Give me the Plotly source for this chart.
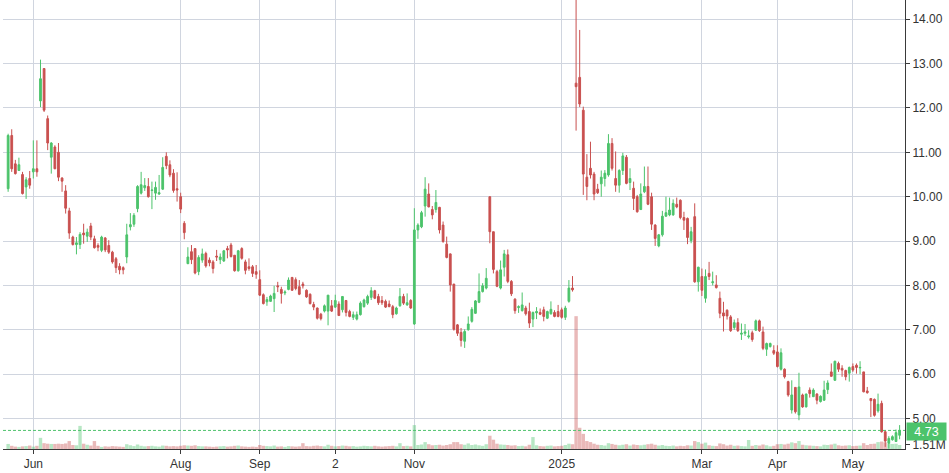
import pandas as pd
import plotly.graph_objects as go

# ---------------- data ----------------
holidays = ["2024-05-27", "2024-06-19", "2024-07-04", "2024-09-02", "2024-11-28",
            "2024-12-25", "2025-01-01", "2025-01-09", "2025-01-20", "2025-02-17", "2025-04-18"]
dates = [d.strftime("%Y-%m-%d") for d in pd.bdate_range("2024-05-22", "2025-05-20")
         if d.strftime("%Y-%m-%d") not in holidays]

opens = [
    10.18, 11.38, 10.74, 10.59, 10.50, 10.22, 10.41, 10.56, 10.63, 12.16,
    12.89, 11.76, 10.89, 11.12, 11.00, 10.42, 10.13, 9.68, 9.09, 8.92,
    8.92, 9.18, 9.11, 9.34, 9.05, 8.90, 8.79, 9.07, 8.90, 8.75,
    8.60, 8.43, 8.40, 8.64, 9.32, 9.38, 9.73, 10.08, 10.20, 10.23,
    10.14, 10.08, 10.06, 10.17, 10.91, 10.72, 10.53, 10.18, 10.00, 9.40,
    8.49, 8.76, 8.83, 8.31, 8.57, 8.72, 8.57, 8.53, 8.66, 8.58,
    8.55, 8.83, 8.91, 8.68, 8.33, 8.83, 8.53, 8.42, 8.42, 8.31,
    8.13, 7.79, 7.63, 7.64, 7.70, 7.99, 7.91, 7.83, 7.91, 8.18,
    8.13, 7.97, 8.03, 7.89, 7.80, 7.57, 7.49, 7.35, 7.42, 7.42,
    7.54, 7.51, 7.58, 7.45, 7.66, 7.41, 7.28, 7.24, 7.34, 7.52,
    7.60, 7.73, 7.88, 7.75, 7.66, 7.64, 7.58, 7.52, 7.36, 7.54,
    7.75, 7.56, 7.66, 7.13, 9.25, 9.32, 9.79, 10.06, 9.71, 9.71,
    9.76, 9.36, 8.93, 8.71, 8.03, 7.11, 6.94, 6.74, 7.00, 7.19,
    7.37, 7.62, 7.86, 7.94, 10.00, 9.21, 8.31, 7.94, 8.41, 8.69,
    8.09, 7.69, 7.50, 7.43, 7.49, 7.41, 7.24, 7.38, 7.39, 7.45,
    7.26, 7.36, 7.39, 7.41, 7.45, 7.28, 7.64, 7.94, 12.56, 12.69,
    11.95, 10.44, 10.64, 10.51, 10.17, 10.29, 10.41, 10.49, 11.20, 10.41,
    10.26, 10.59, 10.89, 10.32, 10.19, 10.00, 9.71, 10.11, 10.23, 10.00,
    9.36, 8.89, 9.14, 9.56, 9.59, 9.59, 9.83, 9.92, 9.53, 9.51,
    9.01, 9.55, 8.08, 8.20, 7.71, 8.27, 8.06, 8.01, 7.71, 7.38,
    7.44, 7.29, 7.05, 7.16, 6.90, 6.92, 6.84, 6.93, 6.99, 7.20,
    6.95, 6.56, 6.62, 6.53, 6.50, 6.11, 6.11, 5.83, 5.19, 5.70,
    5.08, 5.53, 5.26, 5.64, 5.49, 5.55, 5.38, 5.41, 5.65, 6.05,
    5.86, 6.24, 6.13, 6.08, 6.02, 6.17, 6.20, 6.14, 6.05, 5.62,
    5.45, 5.43, 5.17, 5.34, 4.70, 4.44, 4.52, 4.48, 4.62,
]
highs = [
    11.42, 11.52, 10.83, 10.88, 10.56, 10.44, 10.58, 11.27, 11.27, 13.09,
    12.89, 11.83, 11.23, 11.16, 11.21, 10.44, 10.26, 9.75, 9.12, 9.09,
    9.20, 9.39, 9.28, 9.41, 9.12, 8.95, 9.12, 9.09, 9.02, 8.78,
    8.64, 8.50, 8.43, 9.39, 9.63, 9.63, 10.26, 10.56, 10.42, 10.42,
    10.34, 10.34, 10.49, 10.89, 11.00, 10.82, 10.62, 10.55, 10.09, 9.45,
    8.86, 8.91, 8.83, 8.68, 8.83, 8.76, 8.63, 8.57, 8.80, 8.72,
    8.80, 8.89, 8.96, 8.68, 8.80, 8.86, 8.58, 8.61, 8.46, 8.46,
    8.34, 7.82, 7.74, 7.79, 7.99, 8.08, 7.97, 7.89, 8.18, 8.19,
    8.18, 8.12, 8.08, 7.91, 7.82, 7.63, 7.50, 7.38, 7.57, 7.78,
    7.67, 7.79, 7.64, 7.76, 7.67, 7.45, 7.41, 7.41, 7.64, 7.70,
    7.79, 7.96, 7.90, 7.81, 7.76, 7.68, 7.66, 7.56, 7.52, 7.94,
    7.81, 7.82, 7.69, 9.74, 9.40, 9.68, 10.44, 10.30, 9.79, 10.15,
    9.77, 9.44, 9.10, 8.72, 8.03, 7.13, 7.04, 7.01, 7.30, 7.51,
    7.67, 8.27, 8.05, 8.39, 10.00, 9.21, 8.35, 8.56, 8.80, 8.81,
    8.12, 7.71, 7.55, 7.84, 7.54, 7.61, 7.41, 7.51, 7.48, 7.52,
    7.43, 7.64, 7.44, 7.56, 7.50, 7.54, 8.12, 8.21, 14.60, 13.76,
    12.03, 10.96, 11.24, 10.56, 10.29, 10.59, 10.60, 11.41, 11.32, 11.02,
    10.62, 10.99, 10.94, 10.64, 10.34, 10.04, 10.30, 10.68, 10.68, 10.09,
    9.38, 9.16, 9.68, 10.00, 9.98, 9.94, 9.98, 9.94, 9.66, 9.53,
    9.32, 9.85, 8.42, 8.38, 8.36, 8.53, 8.31, 8.23, 7.86, 7.63,
    7.46, 7.33, 7.23, 7.26, 7.14, 7.13, 6.99, 6.98, 7.23, 7.23,
    7.07, 6.71, 6.71, 6.65, 6.65, 6.58, 6.13, 5.85, 5.86, 5.70,
    6.03, 5.56, 5.56, 5.70, 5.68, 5.57, 5.52, 5.85, 5.86, 6.24,
    6.30, 6.28, 6.20, 6.10, 6.17, 6.24, 6.24, 6.29, 6.05, 5.71,
    5.45, 5.45, 5.56, 5.40, 4.74, 4.60, 4.62, 4.75, 4.85,
]
lows = [
    10.11, 10.56, 10.50, 10.59, 10.05, 9.95, 10.18, 10.41, 10.45, 12.02,
    11.91, 11.05, 10.52, 10.62, 10.35, 10.11, 9.62, 9.05, 8.90, 8.70,
    8.82, 8.94, 8.98, 9.02, 8.83, 8.77, 8.75, 8.75, 8.71, 8.49,
    8.28, 8.25, 8.25, 8.50, 9.24, 9.32, 9.65, 10.05, 10.13, 9.98,
    9.72, 9.93, 10.04, 10.15, 10.62, 10.44, 10.09, 9.89, 9.63, 9.04,
    8.48, 8.48, 8.25, 8.23, 8.51, 8.40, 8.43, 8.27, 8.55, 8.48,
    8.53, 8.61, 8.63, 8.31, 8.31, 8.58, 8.25, 8.33, 8.19, 8.15,
    7.76, 7.57, 7.54, 7.63, 7.40, 7.85, 7.59, 7.78, 7.89, 7.88,
    7.89, 7.78, 7.93, 7.72, 7.57, 7.44, 7.23, 7.21, 7.39, 7.10,
    7.40, 7.49, 7.32, 7.39, 7.30, 7.28, 7.22, 7.21, 7.32, 7.50,
    7.56, 7.67, 7.69, 7.56, 7.56, 7.49, 7.51, 7.26, 7.34, 7.52,
    7.56, 7.54, 7.47, 7.11, 9.05, 9.29, 9.55, 9.76, 9.49, 9.64,
    9.17, 8.96, 8.61, 7.86, 6.98, 6.86, 6.62, 6.59, 6.98, 7.16,
    7.36, 7.60, 7.84, 7.91, 8.95, 8.27, 7.96, 7.91, 8.20, 8.05,
    7.76, 7.36, 7.38, 7.41, 7.32, 7.04, 7.06, 7.24, 7.33, 7.19,
    7.24, 7.34, 7.28, 7.28, 7.25, 7.22, 7.61, 7.86, 11.49, 12.02,
    10.04, 9.92, 10.41, 9.92, 10.06, 10.00, 10.23, 10.45, 10.59, 10.11,
    10.09, 10.49, 10.28, 10.15, 9.70, 9.64, 9.70, 10.08, 9.81, 9.25,
    8.89, 8.86, 9.10, 9.55, 9.56, 9.57, 9.74, 9.49, 9.25, 8.93,
    8.95, 8.06, 7.86, 7.76, 7.61, 8.12, 8.00, 7.93, 7.26, 6.96,
    7.23, 6.95, 7.00, 6.95, 6.77, 6.86, 6.80, 6.73, 6.98, 6.95,
    6.54, 6.41, 6.60, 6.43, 6.15, 6.08, 5.90, 5.49, 5.11, 5.11,
    4.96, 5.24, 5.25, 5.47, 5.49, 5.32, 5.36, 5.40, 5.55, 5.94,
    5.85, 6.05, 5.94, 5.86, 5.83, 6.05, 6.01, 6.00, 5.59, 5.56,
    5.03, 5.04, 5.13, 4.68, 4.36, 4.32, 4.50, 4.48, 4.53,
]
closes = [
    11.38, 10.63, 10.52, 10.72, 10.07, 10.38, 10.26, 10.63, 10.56, 12.66,
    11.95, 11.21, 11.21, 10.63, 10.44, 10.35, 9.74, 9.18, 8.92, 8.96,
    9.15, 9.14, 9.20, 9.09, 8.85, 8.86, 9.09, 8.80, 8.75, 8.53,
    8.40, 8.35, 8.35, 9.14, 9.37, 9.58, 10.23, 10.27, 10.25, 10.00,
    10.15, 10.21, 10.09, 10.66, 10.70, 10.49, 10.14, 10.15, 9.72, 9.19,
    8.64, 8.58, 8.28, 8.63, 8.71, 8.44, 8.51, 8.38, 8.64, 8.64,
    8.78, 8.80, 8.65, 8.33, 8.78, 8.61, 8.34, 8.38, 8.27, 8.25,
    7.78, 7.59, 7.68, 7.76, 7.82, 7.97, 7.82, 7.85, 8.12, 7.89,
    7.93, 7.80, 7.99, 7.74, 7.59, 7.51, 7.26, 7.25, 7.54, 7.78,
    7.42, 7.66, 7.32, 7.75, 7.39, 7.30, 7.34, 7.34, 7.60, 7.67,
    7.75, 7.88, 7.71, 7.61, 7.61, 7.51, 7.52, 7.34, 7.49, 7.75,
    7.60, 7.61, 7.49, 9.25, 9.36, 9.64, 10.17, 9.77, 9.59, 9.87,
    9.25, 8.99, 8.63, 8.01, 7.01, 6.92, 6.76, 6.96, 7.13, 7.46,
    7.65, 7.86, 7.99, 8.16, 9.21, 8.36, 7.98, 8.35, 8.71, 8.09,
    7.81, 7.43, 7.52, 7.56, 7.36, 7.15, 7.39, 7.41, 7.35, 7.30,
    7.41, 7.46, 7.30, 7.30, 7.28, 7.49, 7.94, 7.90, 12.48, 12.09,
    10.51, 10.23, 10.49, 10.06, 10.09, 10.44, 10.53, 11.20, 10.64, 10.26,
    10.59, 10.92, 10.30, 10.41, 9.96, 9.66, 10.06, 10.23, 9.83, 9.38,
    9.06, 9.14, 9.56, 9.64, 9.70, 9.85, 9.77, 9.53, 9.47, 9.08,
    9.21, 8.08, 8.41, 7.89, 8.20, 8.20, 8.08, 7.95, 7.37, 7.31,
    7.31, 6.98, 7.16, 6.98, 6.92, 6.95, 6.86, 6.78, 7.20, 6.98,
    6.58, 6.69, 6.69, 6.47, 6.17, 6.48, 5.94, 5.53, 5.53, 5.15,
    5.71, 5.26, 5.55, 5.56, 5.64, 5.41, 5.50, 5.64, 5.80, 5.95,
    6.29, 6.11, 6.09, 5.94, 6.15, 6.09, 6.15, 6.15, 5.60, 5.58,
    5.40, 5.07, 5.32, 4.70, 4.49, 4.55, 4.59, 4.68, 4.73,
]
volumes_m = [
    1.9, 1.2, 0.9, 0.8, 1.0, 1.1, 1.3, 0.9, 1.2, 4.2,
    2.2, 2.0, 1.9, 1.9, 2.0, 1.9, 2.1, 3.0, 1.5, 1.4,
    8.7, 2.0, 1.6, 1.3, 3.0, 1.2, 0.8, 1.0, 0.9, 1.1,
    1.0, 0.9, 0.8, 1.8, 1.4, 1.1, 1.7, 1.2, 1.0, 1.1,
    1.2, 1.0, 0.9, 1.3, 1.2, 1.0, 1.1, 1.0, 1.2, 1.4,
    1.3, 1.2, 1.4, 1.1, 1.0, 1.0, 0.9, 0.8, 0.9, 1.0,
    1.1, 0.9, 1.0, 1.2, 1.3, 1.0, 0.9, 0.8, 0.9, 0.8,
    1.5, 1.2, 1.1, 1.0, 1.3, 0.9, 1.0, 0.8, 1.1, 1.0,
    0.9, 1.0, 2.2, 1.1, 1.0, 1.2, 1.3, 1.1, 1.0, 1.6,
    1.2, 1.0, 1.1, 1.3, 1.2, 1.0, 1.1, 0.9, 1.0, 1.2,
    1.1, 1.0, 1.2, 1.0, 0.9, 1.0, 1.1, 1.2, 1.0, 2.2,
    1.1, 1.2, 1.0, 9.0, 1.5, 1.7, 2.6, 1.8, 1.4, 1.5,
    1.6, 1.3, 1.5, 1.8, 2.6, 2.6, 1.8, 1.6, 2.1, 1.5,
    1.7, 1.4, 1.2, 1.8, 5.0, 3.5, 2.0, 1.7, 1.6, 1.5,
    1.3, 1.4, 1.1, 1.2, 1.0, 1.6, 4.5, 1.4, 1.1, 1.0,
    1.2, 1.3, 1.0, 1.1, 1.2, 1.5, 2.0, 1.8, 50.0, 8.0,
    5.7, 3.0, 2.6, 2.0, 1.6, 1.5, 1.3, 2.2, 1.9, 1.6,
    1.4, 1.6, 1.8, 1.3, 1.7, 1.5, 1.4, 1.6, 1.8, 2.0,
    1.6, 1.3, 1.5, 1.2, 1.1, 1.3, 1.0, 1.2, 1.1, 1.4,
    1.3, 3.0, 2.6, 2.0, 2.4, 1.4, 1.2, 1.1, 2.1, 1.8,
    1.3, 1.6, 1.2, 1.3, 1.1, 1.0, 3.4, 1.2, 1.5, 1.3,
    1.7, 1.4, 1.0, 1.2, 1.8, 1.9, 1.7, 2.0, 2.5, 2.2,
    3.0, 1.6, 1.4, 1.3, 1.2, 1.1, 1.0, 1.6, 1.5, 1.7,
    2.0, 1.4, 1.2, 1.3, 1.4, 1.1, 1.2, 1.3, 2.2, 1.5,
    1.9, 2.0, 2.6, 2.8, 2.5, 2.0, 1.9, 2.0, 1.51,
]

tick_dates = ["2024-06-03", "2024-08-01", "2024-09-03", "2024-10-02", "2024-11-01",
              "2025-01-02", "2025-03-03", "2025-04-01", "2025-05-01"]
tick_labels = ["Jun", "Aug", "Sep", "2", "Nov", "2025", "Mar", "Apr", "May"]
price_ticks = [5, 6, 7, 8, 9, 10, 11, 12, 13, 14]
price_labels = ["5.00", "6.00", "7.00", "8.00", "9.00", "10.00", "11.00", "12.00", "13.00", "14.00"]
last_price = 4.73
last_volume_label = "1.51M"

n = min(len(dates), len(opens))
dates = dates[:n]

# ---------------- styling ----------------
GREEN = "#4cc36b"
RED = "#c9504f"
VOL_GREEN = "rgba(76,195,107,0.40)"
VOL_RED = "rgba(201,80,79,0.40)"
GRID = "#d0d5df"
AXIS = "#3a3a3a"
TEXT = "#333333"
FONT = "Liberation Sans"

vol_colors = [VOL_GREEN if c >= o else VOL_RED for o, c in zip(opens, closes)]

fig = go.Figure()
fig.add_trace(go.Bar(
    x=dates, y=volumes_m[:n], marker=dict(color=vol_colors, line=dict(width=0)),
    yaxis="y", showlegend=False, hoverinfo="skip"))
fig.add_trace(go.Candlestick(
    x=dates, open=opens[:n], high=highs[:n], low=lows[:n], close=closes[:n],
    yaxis="y2", showlegend=False, whiskerwidth=0,
    increasing=dict(line=dict(color=GREEN, width=1), fillcolor=GREEN),
    decreasing=dict(line=dict(color=RED, width=1), fillcolor=RED)))

fig.add_shape(type="line", xref="paper", x0=0, x1=1, yref="y2", y0=last_price, y1=last_price,
              line=dict(color=GREEN, width=1, dash="3px,2px"))
fig.add_annotation(xref="paper", x=1, xanchor="left", xshift=1, yref="y2", y=last_price,
                   yshift=-1, text=f"{last_price:.2f}", showarrow=False, bgcolor=GREEN,
                   font=dict(family=FONT, size=12.5, color="white"),
                   width=39, height=17, align="center", borderpad=0)

fig.update_layout(
    width=949, height=473,
    margin=dict(l=3, r=44, t=0, b=24),
    paper_bgcolor="white", plot_bgcolor="white",
    bargap=0.05,
    font=dict(family=FONT, size=12, color=TEXT),
    xaxis=dict(type="category", range=[-1.43, 249.5], tickmode="array",
               tickvals=tick_dates, ticktext=tick_labels, tickangle=0,
               showgrid=True, gridcolor=GRID, gridwidth=1,
               ticks="outside", ticklen=4, tickcolor=AXIS,
               showline=True, linecolor=AXIS, linewidth=1,
               rangeslider=dict(visible=False), zeroline=False,
               tickfont=dict(family=FONT, size=12, color=TEXT)),
    yaxis=dict(range=[0, 169], side="right", showgrid=False, zeroline=False,
               tickmode="array", tickvals=[volumes_m[n - 1]], ticktext=[last_volume_label],
               ticks="outside", ticklen=4, tickcolor=AXIS, showline=False,
               tickfont=dict(family=FONT, size=12, color=TEXT)),
    yaxis2=dict(range=[4.311, 14.435], overlaying="y", side="right",
                tickmode="array", tickvals=price_ticks, ticktext=price_labels,
                showgrid=True, gridcolor=GRID, gridwidth=1.4, zeroline=False,
                ticks="outside", ticklen=4, tickcolor=AXIS,
                showline=True, linecolor=AXIS, linewidth=1,
                tickfont=dict(family=FONT, size=12, color=TEXT)),
)

fig.write_html("out.html", config={"displayModeBar": False},
               post_script="document.body.style.margin='0';document.body.style.padding='0';")
